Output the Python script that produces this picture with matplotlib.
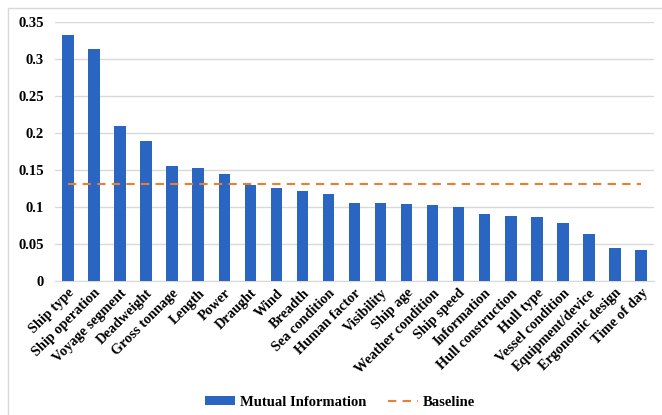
import matplotlib.pyplot as plt
from matplotlib.patches import Rectangle

# ==========================================================
# DATA
# ==========================================================

factors = [
    "Ship type", "Ship operation", "Voyage segment", "Deadweight",
    "Gross tonnage", "Length", "Power", "Draught", "Wind", "Breadth",
    "Sea condition", "Human factor", "Visibility", "Ship age",
    "Weather condition", "Ship speed", "Information", "Hull construction",
    "Hull type", "Vessel condition", "Equipment/device", "Ergonomic design",
    "Time of day",
]

mutual_info = [
    0.332, 0.313, 0.210, 0.189, 0.156, 0.153, 0.144, 0.130, 0.126, 0.121,
    0.117, 0.105, 0.105, 0.104, 0.103, 0.100, 0.090, 0.088, 0.087, 0.078,
    0.063, 0.045, 0.042,
]

baseline = 0.131

yticks = [0, 0.05, 0.1, 0.15, 0.2, 0.25, 0.3, 0.35]
ytick_labels = ["0", "0.05", "0.1", "0.15", "0.2", "0.25", "0.3", "0.35"]

# ==========================================================
# PLOT
# ==========================================================

plt.rcParams["font.family"] = ["Liberation Serif", "DejaVu Serif"]
plt.rcParams["font.weight"] = "bold"

fig = plt.figure(figsize=(6.62, 4.15), dpi=100)
ax = fig.add_axes([0.083, 0.323, 0.905, 0.624])

x = list(range(len(factors)))

bars = ax.bar(x, mutual_info, width=0.44, color="#2A66C1", zorder=3,
              label="Mutual Information")
line, = ax.plot([x[0], x[-1]], [baseline, baseline], color="#ED7D31",
                linestyle=(0, (4, 3)), linewidth=1.5, zorder=4,
                label="Baseline")

ax.set_xlim(-0.5, len(factors) - 0.5)
ax.set_ylim(0, 0.35)
ax.set_yticks(yticks)
ax.set_yticklabels(ytick_labels, fontsize=10.5, fontweight="bold")
ax.set_xticks(x)
ax.set_xticklabels(factors, rotation=45, ha="right", rotation_mode="anchor",
                   fontsize=10.3, fontweight="bold")

ax.grid(axis="y", color="#D9D9D9", linewidth=1, zorder=0)
for side in ["top", "right", "left"]:
    ax.spines[side].set_visible(False)
ax.spines["bottom"].set_color("#D9D9D9")
ax.tick_params(axis="both", length=0, pad=4)
ax.tick_params(axis="y", pad=8)

fig.legend([bars, line], ["Mutual Information", "Baseline"],
           loc="center", bbox_to_anchor=(0.514, 0.031), ncol=2, frameon=False,
           prop={"family": "Liberation Serif", "weight": "bold", "size": 10.5},
           handlelength=2.05, handleheight=0.5, columnspacing=1.45,
           handletextpad=0.35)

# outer chart border
fig.patches.append(Rectangle((0.012, -0.1), 1.2, 1.08,
                             transform=fig.transFigure, fill=False,
                             edgecolor="#D9D9D9", linewidth=1))

fig.savefig("out.png", dpi=100)
